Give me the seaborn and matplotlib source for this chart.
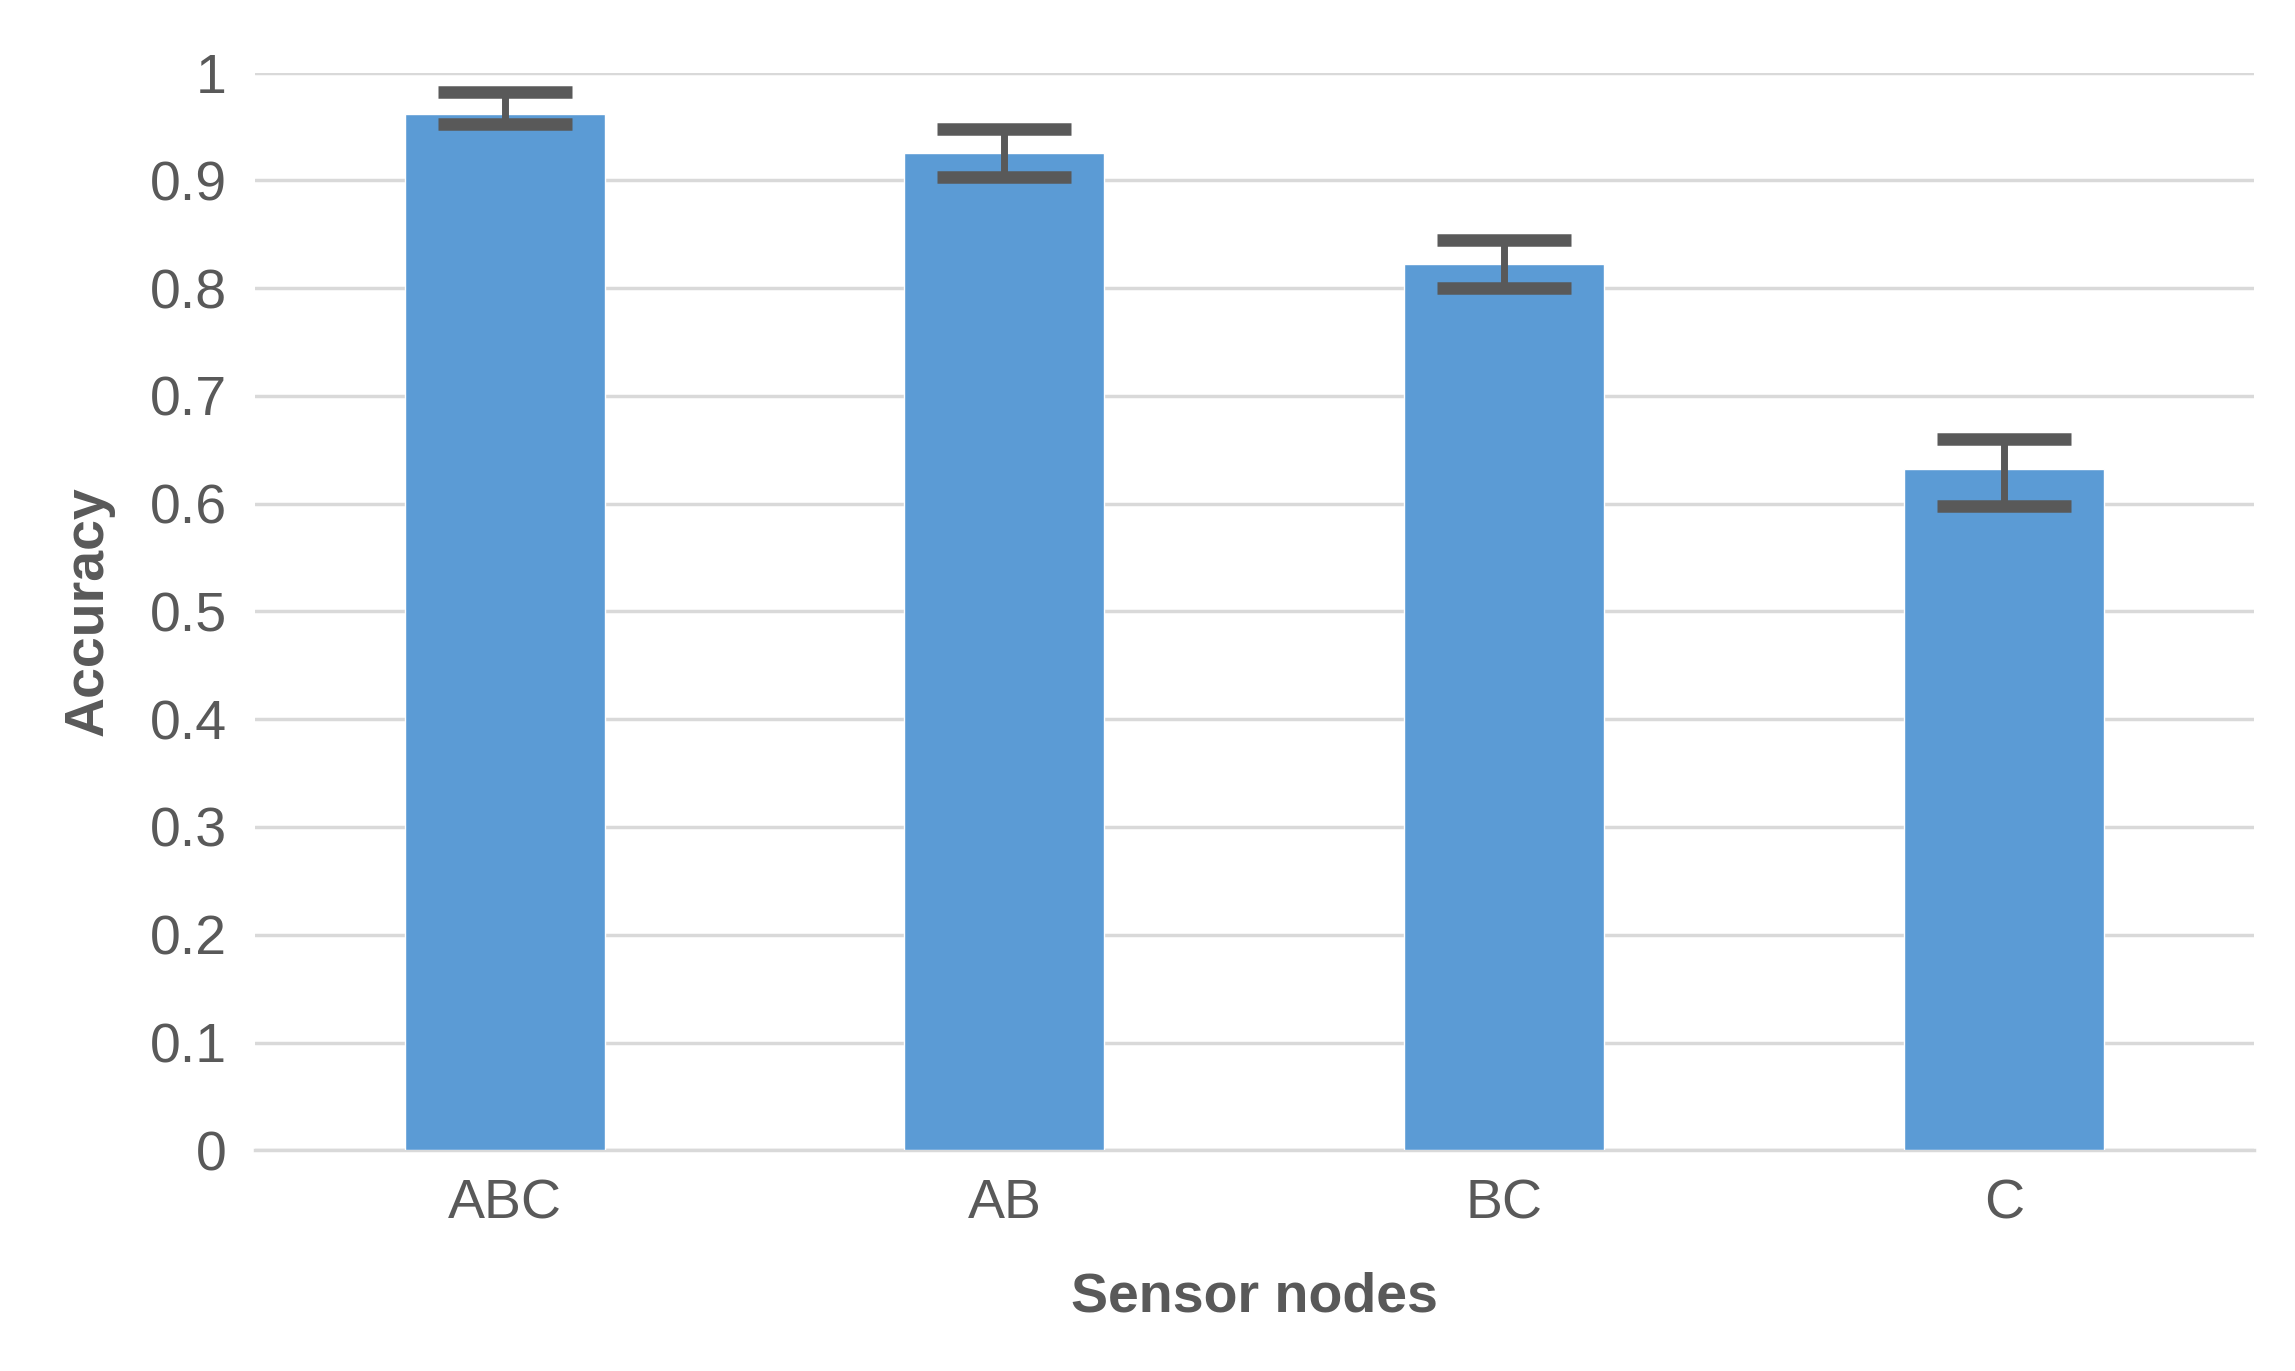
import matplotlib
matplotlib.use("Agg")
import matplotlib.pyplot as plt
import seaborn as sns
import pandas as pd
import numpy as np

categories = ["ABC", "AB", "BC", "C"]
accuracy = [0.962, 0.925, 0.822, 0.632]
err_low = [0.010, 0.022, 0.022, 0.034]
err_high = [0.020, 0.023, 0.023, 0.028]

sns.set_theme(style="white")
plt.rcParams['font.family'] = ['Liberation Sans', 'DejaVu Sans']

df = pd.DataFrame({"node": categories, "acc": accuracy})
fig = plt.figure(figsize=(22.95, 13.71), dpi=100)
ax = fig.add_axes([0.111, 0.161, 0.871, 0.786])
sns.barplot(data=df, x="node", y="acc", color="#5B9BD5", saturation=1,
            width=0.4, errorbar=None, ax=ax, zorder=3)
ax.errorbar(np.arange(len(categories)), accuracy, yerr=[err_low, err_high],
            fmt="none", ecolor="#595959", elinewidth=5, capsize=48,
            capthick=9, zorder=4)
ax.set_ylim(0, 1)
ax.set_xlim(-0.5, 3.5)
ax.set_yticks(np.arange(0, 1.01, 0.1))
ax.set_yticklabels(["0"] + [f"{v:.1f}" for v in np.arange(0.1, 0.95, 0.1)] + ["1"])
ax.yaxis.grid(True, color="#D9D9D9", linewidth=2.5, zorder=0)
for s in ["top", "right", "left"]:
    ax.spines[s].set_visible(False)
ax.spines["bottom"].set_color("#D9D9D9")
ax.spines["bottom"].set_linewidth(2.5)
ax.tick_params(axis="both", labelsize=40, colors="#595959", length=0, pad=20)
ax.set_xlabel("Sensor nodes", fontsize=40, fontweight="bold", color="#595959", labelpad=30)
ax.set_ylabel("Accuracy", fontsize=40, fontweight="bold", color="#595959", labelpad=25)
fig.savefig("out.png", dpi=100)
